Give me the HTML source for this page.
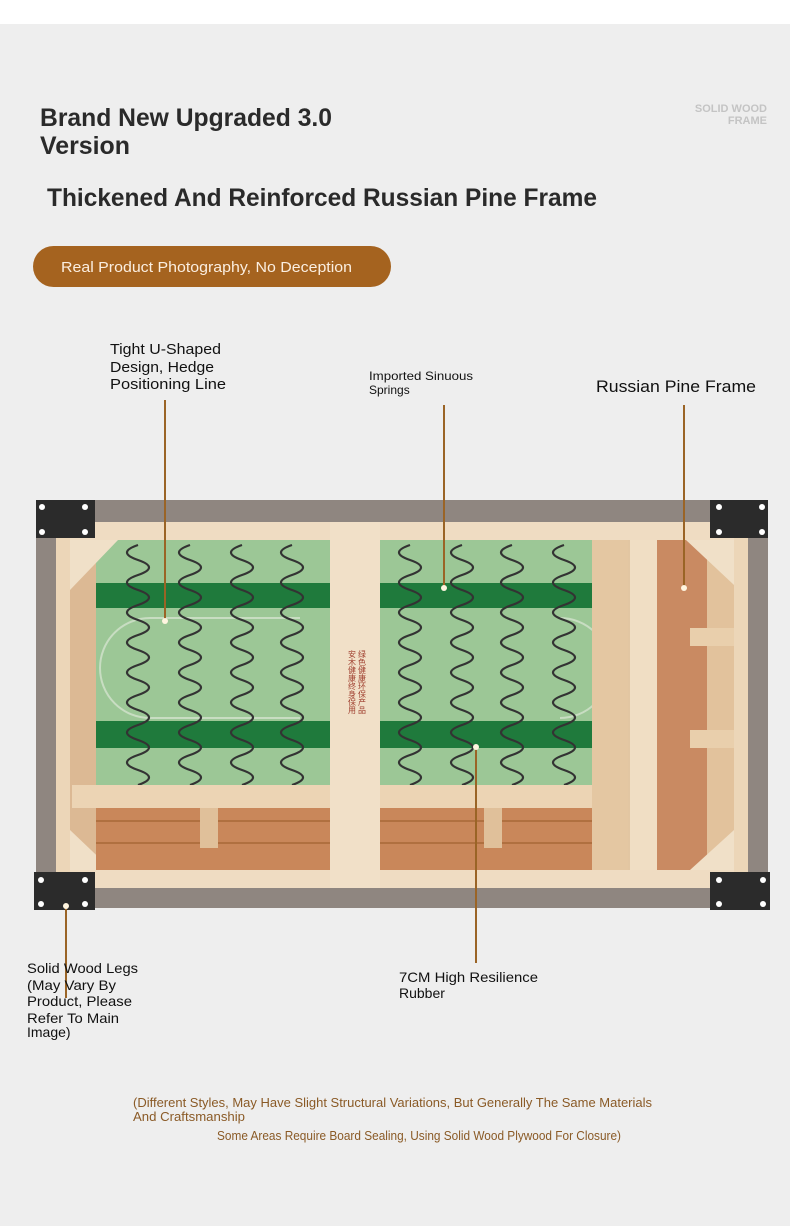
<!DOCTYPE html>
<html><head><meta charset="utf-8"><style>
html,body{margin:0;padding:0;background:#fff}
svg{display:block}
text{font-family:"Liberation Sans",sans-serif}
</style></head><body>
<svg width="790" height="1226" viewBox="0 0 790 1226" xmlns="http://www.w3.org/2000/svg">
<defs>
<path id="spr" d="M0 0 q-22 7.5 0 15 q22 7.5 0 15 q-22 7.5 0 15 q22 7.5 0 15 q-22 7.5 0 15 q22 7.5 0 15 q-22 7.5 0 15 q22 7.5 0 15 q-22 7.5 0 15 q22 7.5 0 15 q-22 7.5 0 15 q22 7.5 0 15 q-22 7.5 0 15 q22 7.5 0 15 q-22 7.5 0 15 q22 7.5 0 15" fill="none" stroke="#333" stroke-width="2.2"/>
</defs>
<rect x="0" y="0" width="790" height="1226" fill="#eeeeee"/>
<rect x="0" y="0" width="790" height="24" fill="#ffffff"/>

<text x="40" y="126" font-size="25" font-weight="bold" fill="#2a2a2a" textLength="292" lengthAdjust="spacingAndGlyphs">Brand New Upgraded 3.0</text>
<text x="40" y="154" font-size="25" font-weight="bold" fill="#2a2a2a" textLength="90" lengthAdjust="spacingAndGlyphs">Version</text>
<text x="767" y="112" font-size="11" font-weight="bold" fill="#c4c4c4" text-anchor="end">SOLID WOOD</text>
<text x="767" y="124" font-size="11" font-weight="bold" fill="#c4c4c4" text-anchor="end">FRAME</text>
<text x="47" y="206" font-size="25" font-weight="bold" fill="#2a2a2a" textLength="550" lengthAdjust="spacingAndGlyphs">Thickened And Reinforced Russian Pine Frame</text>

<rect x="33" y="246" width="358" height="41" rx="20.5" fill="#a5631f"/>
<text x="61" y="272" font-size="15" fill="#fbeee0" textLength="291" lengthAdjust="spacingAndGlyphs">Real Product Photography, No Deception</text>

<text x="110" y="354" font-size="15" fill="#111" textLength="111" lengthAdjust="spacingAndGlyphs">Tight U-Shaped</text>
<text x="110" y="372" font-size="15" fill="#111" textLength="104" lengthAdjust="spacingAndGlyphs">Design, Hedge</text>
<text x="110" y="389" font-size="15" fill="#111" textLength="116" lengthAdjust="spacingAndGlyphs">Positioning Line</text>
<text x="369" y="380" font-size="12" fill="#111" textLength="104" lengthAdjust="spacingAndGlyphs">Imported Sinuous</text>
<text x="369" y="394" font-size="12" fill="#111">Springs</text>
<text x="596" y="392" font-size="17" fill="#111" textLength="160" lengthAdjust="spacingAndGlyphs">Russian Pine Frame</text>

<rect x="36" y="500" width="732" height="408" fill="#8f8680"/>
<rect x="56" y="522" width="692" height="366" fill="#e2c6a2"/>
<rect x="56" y="522" width="692" height="18" fill="#efdcc2"/>
<rect x="56" y="870" width="692" height="18" fill="#efdcc2"/>
<rect x="56" y="522" width="14" height="366" fill="#ecd6b8"/>
<rect x="734" y="522" width="14" height="366" fill="#ecd6b8"/>
<rect x="70" y="540" width="26" height="330" fill="#dcb994"/>
<rect x="96" y="540" width="234" height="245" fill="#9cc796"/>
<rect x="380" y="540" width="212" height="245" fill="#9cc796"/>
<rect x="96" y="583" width="234" height="25" fill="#1f7a3c"/>
<rect x="380" y="583" width="212" height="25" fill="#1f7a3c"/>
<rect x="96" y="721" width="234" height="27" fill="#1f7a3c"/>
<rect x="380" y="721" width="212" height="27" fill="#1f7a3c"/>
<path d="M150 618 L300 618 M150 718 L300 718 M150 618 A50 50 0 0 0 150 718" fill="none" stroke="#c8ddc2" stroke-width="2"/>
<path d="M560 618 A50 50 0 0 1 560 718" fill="none" stroke="#c8ddc2" stroke-width="2"/>
<use href="#spr" x="138" y="545"/><use href="#spr" x="190" y="545"/><use href="#spr" x="242" y="545"/><use href="#spr" x="292" y="545"/>
<use href="#spr" x="410" y="545"/><use href="#spr" x="462" y="545"/><use href="#spr" x="512" y="545"/><use href="#spr" x="564" y="545"/>
<polygon points="70,540 118,540 70,590" fill="#f0e0c8"/>
<polygon points="70,870 70,830 112,870" fill="#f0e0c8"/>
<rect x="96" y="808" width="496" height="62" fill="#c9875a"/>
<rect x="96" y="820" width="496" height="2" fill="#b07040"/>
<rect x="96" y="842" width="496" height="2" fill="#b07040"/>
<rect x="200" y="808" width="18" height="40" fill="#e0c09a"/>
<rect x="484" y="808" width="18" height="40" fill="#e0c09a"/>
<rect x="72" y="785" width="536" height="23" fill="#ecd4b4"/>
<rect x="330" y="522" width="50" height="366" fill="#f1e0c8"/>
<text x="352" y="650" font-size="8" fill="#a04030" writing-mode="tb">安木健康终身保用</text>
<text x="362" y="650" font-size="8" fill="#a04030" writing-mode="tb">绿色健康环保产品</text>
<rect x="592" y="540" width="36" height="330" fill="#e4c7a2"/>
<rect x="630" y="540" width="27" height="330" fill="#f0dec4"/>
<rect x="657" y="540" width="50" height="330" fill="#c98a62"/>
<rect x="707" y="540" width="27" height="330" fill="#e2c29c"/>
<rect x="690" y="628" width="44" height="18" fill="#e9cfac"/>
<rect x="690" y="730" width="44" height="18" fill="#e9cfac"/>
<polygon points="686,540 734,540 734,585" fill="#f0e0c8"/>
<polygon points="734,830 734,870 690,870" fill="#f0e0c8"/>
<g fill="#2b2b2b"><rect x="36" y="500" width="59" height="38"/><rect x="710" y="500" width="58" height="38"/><rect x="34" y="872" width="61" height="38"/><rect x="710" y="872" width="60" height="38"/></g>
<g fill="#fff"><circle cx="42" cy="507" r="3"/><circle cx="85" cy="507" r="3"/><circle cx="42" cy="532" r="3"/><circle cx="85" cy="532" r="3"/>
<circle cx="719" cy="507" r="3"/><circle cx="762" cy="507" r="3"/><circle cx="719" cy="532" r="3"/><circle cx="762" cy="532" r="3"/>
<circle cx="41" cy="880" r="3"/><circle cx="85" cy="880" r="3"/><circle cx="41" cy="904" r="3"/><circle cx="85" cy="904" r="3"/>
<circle cx="719" cy="880" r="3"/><circle cx="763" cy="880" r="3"/><circle cx="719" cy="904" r="3"/><circle cx="763" cy="904" r="3"/></g>

<g stroke="#9a6426" stroke-width="2">
<line x1="165" y1="400" x2="165" y2="620"/>
<line x1="444" y1="405" x2="444" y2="588"/>
<line x1="684" y1="405" x2="684" y2="588"/>
<line x1="66" y1="906" x2="66" y2="998"/>
<line x1="476" y1="747" x2="476" y2="963"/>
</g>
<g fill="#fff5e0"><circle cx="165" cy="621" r="3"/><circle cx="444" cy="588" r="3"/><circle cx="684" cy="588" r="3"/><circle cx="66" cy="906" r="3"/><circle cx="476" cy="747" r="3"/></g>

<g font-size="14" fill="#111">
<text x="27" y="973" textLength="111" lengthAdjust="spacingAndGlyphs">Solid Wood Legs</text>
<text x="27" y="990" textLength="89" lengthAdjust="spacingAndGlyphs">(May Vary By</text>
<text x="27" y="1006" textLength="105" lengthAdjust="spacingAndGlyphs">Product, Please</text>
<text x="27" y="1023" textLength="92" lengthAdjust="spacingAndGlyphs">Refer To Main</text>
<text x="27" y="1037">Image)</text>
<text x="399" y="982" textLength="139" lengthAdjust="spacingAndGlyphs">7CM High Resilience</text>
<text x="399" y="998">Rubber</text>
</g>
<g font-size="12.5" fill="#8a5a26">
<text x="133" y="1107" textLength="519" lengthAdjust="spacingAndGlyphs">(Different Styles, May Have Slight Structural Variations, But Generally The Same Materials</text>
<text x="133" y="1121" textLength="112" lengthAdjust="spacingAndGlyphs">And Craftsmanship</text>
<text x="217" y="1140" textLength="404" lengthAdjust="spacingAndGlyphs">Some Areas Require Board Sealing, Using Solid Wood Plywood For Closure)</text>
</g>
</svg>
</body></html>
